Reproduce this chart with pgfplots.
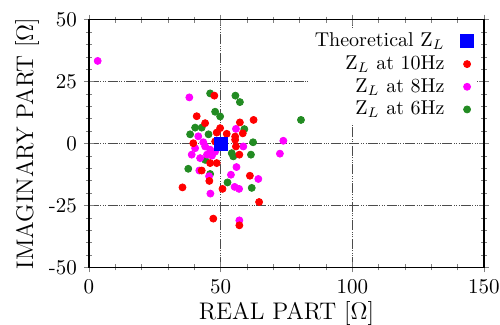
\documentclass[border=0pt]{standalone}
\usepackage{pgfplots}
\pgfplotsset{compat=1.18}
\definecolor{fgreen}{RGB}{34,139,34}
\definecolor{mmag}{RGB}{255,0,255}
\definecolor{rred}{RGB}{255,0,0}
\definecolor{bblue}{RGB}{0,0,255}
\begin{document}
\begin{tikzpicture}
\begin{axis}[
  name=ax,
  scale only axis,
  width=197.5pt, height=124pt,
  xmin=0, xmax=150, ymin=-50, ymax=50,
  xtick={0,50,100,150}, ytick={-50,-25,0,25,50},
  minor x tick num=4, minor y tick num=4,
  tick align=center,
  major tick length=5pt, minor tick length=3pt,
  /pgf/number format/assume math mode=true,
  tick label style={font=\fontsize{10.5}{12}\selectfont},
  label style={font=\fontsize{12}{14}\selectfont},
  xlabel={REAL PART [$\Omega$]},
  ylabel={IMAGINARY PART [$\Omega$]},
  xlabel style={yshift=3pt},
  ylabel style={yshift=-2pt},
  grid=major,
  major grid style={black!70, line width=0.5pt, dash pattern=on 5pt off 0.7pt on 0.5pt off 0.7pt on 0.5pt off 0.7pt on 0.5pt off 0.7pt},
  axis line style={line width=0.7pt},
  legend plot pos=right,
  legend cell align=right,
  reverse legend,
  legend style={at={(1,1)}, anchor=north east, xshift=-4pt, yshift=-4pt, draw=none, fill=white, inner xsep=1pt, inner ysep=0.5pt, font=\fontsize{10}{12}\selectfont, row sep=-1pt, column sep=6pt},
]
\addplot[only marks, mark=*, mark size=1.75pt, color=fgreen] coordinates {
(46.0,20.2) (55.6,19.3) (57.3,16.7) (47.9,12.8) (49.8,10.9) (40.3,6.4) (42.8,6.4)
(59.0,5.8) (38.4,3.7) (45.4,3.7) (62.3,0.5) (54.2,-3.9) (54.8,-5.2) (61.5,-4.5)
(44.1,-6.6) (37.7,-10.2) (46.0,-12.3) (52.6,-15.7) (61.8,-17.9) (80.5,9.5)
};
\addlegendentry{Z$_L$ at 6Hz}
\addplot[only marks, mark=*, mark size=1.75pt, color=mmag] coordinates {
(3.3,33.3) (38.1,18.6) (55.8,5.9) (41.5,2.9) (43.4,0.5) (73.8,1.1) (58.6,-1.2)
(40.3,-1.9) (44.1,-1.2) (46.0,-2.5) (47.9,-3.3) (72.5,-4.1) (39.0,-4.5) (42.2,-5.9)
(44.8,-4.5) (46.7,-4.9) (56.0,-9.5) (41.9,-10.9) (45.6,-13.2) (53.9,-12.6) (64.3,-14.3)
(55.3,-17.5) (57.0,-18.3) (46.1,-20.2) (57.1,-31.0)
};
\addlegendentry{Z$_L$ at 8Hz}
\addplot[only marks, mark=*, mark size=1.75pt, color=rred] coordinates {
(47.6,19.3) (40.9,11.0) (44.1,8.2) (57.3,8.5) (62.5,9.5) (49.8,6.2) (58.4,4.1)
(48.5,4.4) (52.3,3.9) (55.5,2.8) (55.5,1.5) (39.6,0.1) (47.9,0.8) (55.8,-1.2)
(57.1,-4.5) (46.0,-7.9) (48.5,-7.9) (42.8,-10.9) (61.1,-13.0) (45.7,-15.1)
(35.5,-17.7) (50.7,-18.3) (64.6,-23.6) (47.2,-30.3) (57.1,-33.0)
};
\addlegendentry{Z$_L$ at 10Hz}
\addplot[only marks, mark=square*, mark size=3.25pt, color=bblue] coordinates {(50,0)};
\addlegendentry{Theoretical Z$_L$}
\end{axis}
\pgfresetboundingbox
\path[use as bounding box] ([shift={(-44.5pt,-28.5pt)}]ax.south west) rectangle ([shift={(8pt,9.75pt)}]ax.north east);
\end{tikzpicture}
\end{document}
